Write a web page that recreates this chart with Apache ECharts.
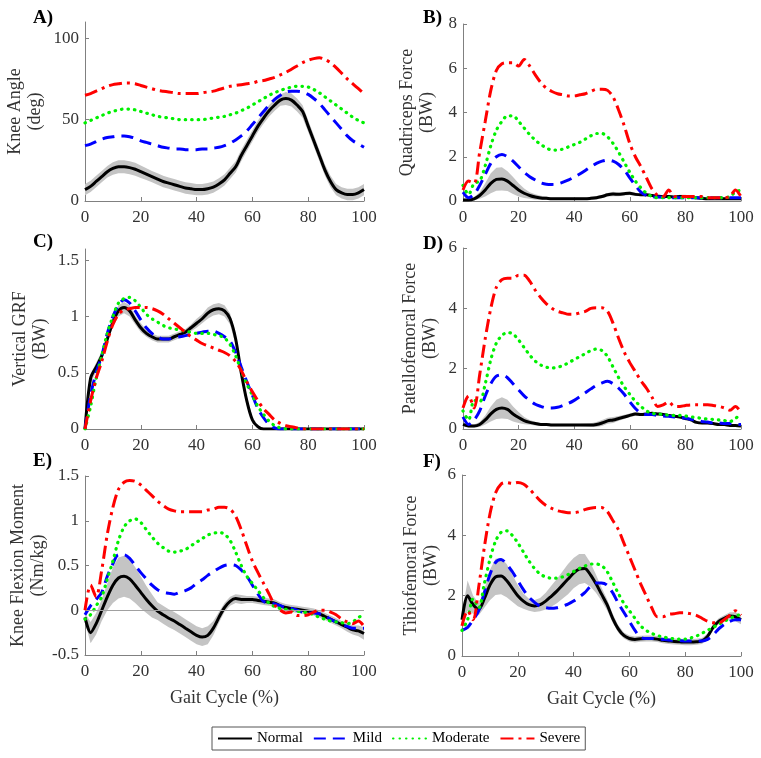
<!DOCTYPE html>
<html>
<head>
<meta charset="utf-8">
<script src="https://cdn.jsdelivr.net/npm/echarts@6/dist/echarts.min.js"></script>
<style>
html,body{margin:0;padding:0;background:#fff;}
#chart{width:761px;height:758px;}
</style>
</head>
<body>
<div id="chart"></div>
<script>
// ---------- DATA ----------
const gaitPct = [0,2,4,6,8,10,12,14,16,18,20,22,24,26,28,30,32,34,36,38,40,42,44,46,48,50,52,54,56,58,60,62,64,66,68,70,72,74,76,78,80,82,84,86,88,90,92,94,96,98,100];
const groups = ['Normal','Mild','Moderate','Severe'];

// A) Knee Angle (deg)
const kneeAngleNormal = [7,9,12,15,18,20,21,21,20.5,19.5,18,16.5,15,13.5,12,11,10,9,8,7.5,7,7,7.5,8.5,10.5,13,17,21,28,34,40,46,51,55.5,59,62,63,62,59,55,46,37,28,19,12,7,5,4,4,5,7];
const kneeAngleSd = [3.5,3.5,3.5,3.5,3.5,3.8,4,4,4,4,3.8,3.6,3.5,3.5,3.5,3.5,3.5,3.5,3.5,3.5,3.5,3.5,3.5,3.5,3.5,3.5,3.5,3.5,3.5,3.5,3.5,3.5,3.5,3.5,3.5,3.5,4,4,4,3.8,3.6,3.5,3.5,3.5,3.5,3.5,3.5,3.5,3.5,3.5,3.5];
const kneeAngleMild = [34,35,36.5,38,39,39.5,40,40,39.5,38.5,37,36,35,34,33,32.5,32,32,31.5,31.5,31.5,32,32,32.5,33,34,35.5,37.5,40,43,47,51,55,59,62.5,65,67,67.5,67.5,67,65.5,63,60,56,52,48,44,40,37,35,33];
const kneeAngleModerate = [48,49.5,51,52.5,54,55,56,56.5,56.5,56,55,54,53,52,51.5,51,50.5,50,50,50,50,50,50.5,51,51.5,52,53,54,55.5,57,59,61,63,65,66.5,68,69,70,70.5,70.5,70,68.5,66.5,64,61.5,59,56.5,54,51.5,49.5,48];
const kneeAngleSevere = [65,66,67.5,69,70.5,71.5,72,72.5,72.5,72,71,70,69,68,67.5,67,66.5,66,66,66,66,66.5,67,67.5,68.5,69.5,70.5,71,71.5,72,72.5,73.5,74,75,76,77.5,79,81,83,85,86.5,87.5,88,87,85,82,78.5,75,72,69,66];

// B) Quadriceps Force (BW)
const quadNormal = [0.05,0.05,0.1,0.25,0.5,0.8,0.98,1.0,0.9,0.7,0.5,0.35,0.25,0.18,0.14,0.12,0.1,0.1,0.1,0.1,0.1,0.1,0.1,0.12,0.15,0.2,0.28,0.32,0.3,0.33,0.35,0.3,0.28,0.28,0.25,0.22,0.2,0.2,0.18,0.2,0.2,0.18,0.15,0.12,0.1,0.1,0.1,0.1,0.1,0.1,0.1];
const quadSd = [0.05,0.05,0.08,0.15,0.3,0.45,0.52,0.52,0.45,0.38,0.3,0.22,0.15,0.12,0.1,0.08,0.06,0.06,0.06,0.06,0.06,0.06,0.06,0.07,0.08,0.08,0.08,0.1,0.08,0.08,0.08,0.07,0.06,0.06,0.06,0.06,0.06,0.06,0.06,0.08,0.08,0.06,0.05,0.05,0.05,0.05,0.05,0.05,0.05,0.05,0.05];
const quadMild = [0.4,0.15,0.3,0.7,1.2,1.7,2.0,2.1,2.0,1.8,1.55,1.3,1.1,0.95,0.82,0.76,0.75,0.77,0.85,0.95,1.08,1.22,1.38,1.55,1.7,1.8,1.85,1.8,1.65,1.4,1.05,0.7,0.4,0.25,0.2,0.18,0.17,0.16,0.15,0.15,0.15,0.15,0.15,0.15,0.15,0.15,0.15,0.15,0.15,0.15,0.15];
const quadModerate = [0.7,0.3,0.8,0.9,1.6,2.5,3.2,3.6,3.85,3.85,3.6,3.3,3.0,2.75,2.55,2.4,2.3,2.3,2.35,2.45,2.55,2.65,2.8,2.95,3.05,3.05,2.9,2.6,2.2,1.75,1.3,0.9,0.6,0.35,0.2,0.15,0.15,0.15,0.15,0.15,0.15,0.15,0.15,0.15,0.15,0.15,0.15,0.15,0.2,0.4,0.5];
const quadSevere = [0.5,0.9,0.8,2.2,3.6,5.0,5.9,6.2,6.25,6.25,6.1,6.4,6.1,5.7,5.35,5.1,4.95,4.85,4.8,4.75,4.75,4.8,4.85,4.95,5.05,5.05,5.0,4.7,4.1,3.4,2.6,2.0,1.55,1.05,0.55,0.25,0.2,0.5,0.2,0.2,0.2,0.2,0.2,0.2,0.15,0.15,0.15,0.15,0.2,0.5,0.2];

// C) Vertical GRF (BW)
const grfNormal = [0,0.45,0.55,0.65,0.8,0.95,1.05,1.08,1.05,0.97,0.9,0.85,0.82,0.8,0.8,0.8,0.82,0.84,0.86,0.9,0.94,0.98,1.03,1.06,1.07,1.05,0.98,0.8,0.5,0.25,0.08,0.02,0,0,0,0,0,0,0,0,0,0,0,0,0,0,0,0,0,0,0];
const grfSd = [0.02,0.04,0.04,0.04,0.04,0.04,0.05,0.05,0.05,0.04,0.04,0.03,0.03,0.03,0.03,0.03,0.03,0.03,0.03,0.03,0.04,0.04,0.05,0.05,0.05,0.05,0.05,0.05,0.05,0.04,0.03,0.01,0,0,0,0,0,0,0,0,0,0,0,0,0,0,0,0,0,0,0];
const grfMild = [0,0.3,0.5,0.65,0.85,1.0,1.1,1.15,1.12,1.05,0.97,0.9,0.85,0.82,0.8,0.8,0.81,0.82,0.83,0.84,0.85,0.86,0.87,0.87,0.85,0.82,0.78,0.68,0.55,0.42,0.3,0.18,0.1,0.04,0.01,0,0,0,0,0,0,0,0,0,0,0,0,0,0,0,0];
const grfModerate = [0,0.2,0.45,0.65,0.85,1.0,1.12,1.16,1.17,1.14,1.08,1.02,0.98,0.95,0.92,0.9,0.89,0.88,0.87,0.86,0.85,0.85,0.85,0.84,0.83,0.81,0.75,0.65,0.52,0.4,0.3,0.2,0.13,0.07,0.03,0.01,0,0,0,0,0,0,0,0,0,0,0,0,0,0,0];
const grfSevere = [0,0.25,0.45,0.6,0.78,0.93,1.02,1.06,1.07,1.08,1.08,1.08,1.07,1.05,1.02,0.98,0.94,0.9,0.86,0.82,0.79,0.76,0.74,0.72,0.7,0.68,0.65,0.6,0.52,0.42,0.33,0.25,0.18,0.13,0.08,0.05,0.03,0.02,0.01,0,0,0,0,0,0,0,0,0,0,0,0];

// D) Patellofemoral Force (BW)
const pfNormal = [0.15,0.1,0.1,0.15,0.3,0.5,0.65,0.7,0.65,0.5,0.38,0.28,0.22,0.18,0.15,0.15,0.13,0.13,0.13,0.13,0.13,0.13,0.13,0.13,0.15,0.2,0.27,0.3,0.35,0.4,0.45,0.5,0.48,0.5,0.52,0.5,0.48,0.45,0.42,0.4,0.35,0.3,0.22,0.2,0.2,0.18,0.15,0.15,0.12,0.12,0.1];
const pfSd = [0.05,0.05,0.05,0.08,0.15,0.25,0.32,0.35,0.32,0.25,0.18,0.12,0.08,0.06,0.05,0.05,0.04,0.04,0.04,0.04,0.04,0.04,0.05,0.06,0.08,0.1,0.1,0.1,0.08,0.07,0.06,0.06,0.05,0.05,0.05,0.05,0.05,0.05,0.05,0.05,0.05,0.05,0.04,0.04,0.04,0.04,0.04,0.04,0.04,0.04,0.04];
const pfMild = [0.4,0.15,0.3,0.6,1.1,1.5,1.75,1.8,1.7,1.5,1.3,1.1,0.95,0.82,0.75,0.7,0.7,0.72,0.78,0.85,0.95,1.07,1.2,1.33,1.45,1.53,1.58,1.5,1.35,1.15,0.9,0.68,0.52,0.48,0.48,0.45,0.43,0.42,0.4,0.38,0.36,0.32,0.28,0.25,0.23,0.2,0.2,0.18,0.18,0.15,0.15];
const pfModerate = [0.6,0.3,0.95,0.9,1.5,2.3,2.85,3.1,3.2,3.15,2.95,2.7,2.45,2.25,2.12,2.05,2.02,2.05,2.1,2.2,2.3,2.4,2.5,2.6,2.65,2.6,2.4,2.05,1.7,1.4,1.15,0.92,0.75,0.6,0.52,0.5,0.48,0.46,0.45,0.45,0.43,0.4,0.38,0.35,0.33,0.32,0.3,0.28,0.25,0.35,0.5];
const pfSevere = [0.7,1.1,0.7,1.8,3.0,4.0,4.7,4.95,5.0,5.0,5.1,5.1,4.9,4.6,4.35,4.15,4.0,3.9,3.85,3.8,3.8,3.85,3.9,4.0,4.02,4.02,3.9,3.5,3.0,2.55,2.2,1.9,1.6,1.35,1.05,0.75,0.8,0.9,0.75,0.75,0.78,0.8,0.8,0.8,0.8,0.78,0.75,0.7,0.62,0.75,0.55];

// E) Knee Flexion Moment (Nm/kg)
const momentNormal = [-0.08,-0.25,-0.15,0.0,0.15,0.28,0.36,0.38,0.35,0.28,0.2,0.12,0.05,-0.01,-0.05,-0.09,-0.12,-0.16,-0.2,-0.24,-0.28,-0.3,-0.28,-0.2,-0.08,0.03,0.1,0.13,0.12,0.12,0.12,0.11,0.1,0.09,0.08,0.05,0.03,0.02,0.01,0.0,-0.01,-0.02,-0.04,-0.07,-0.1,-0.13,-0.16,-0.19,-0.22,-0.23,-0.26];
const momentSd = [0.05,0.12,0.12,0.12,0.15,0.2,0.23,0.23,0.22,0.2,0.18,0.15,0.13,0.1,0.1,0.1,0.1,0.1,0.1,0.1,0.1,0.1,0.1,0.08,0.06,0.05,0.05,0.05,0.05,0.04,0.04,0.04,0.04,0.04,0.04,0.04,0.04,0.04,0.04,0.04,0.04,0.04,0.04,0.04,0.04,0.04,0.04,0.05,0.05,0.06,0.07];
const momentMild = [-0.05,0.05,0.12,0.2,0.38,0.52,0.62,0.62,0.58,0.5,0.42,0.35,0.28,0.23,0.2,0.19,0.18,0.2,0.22,0.25,0.3,0.34,0.39,0.43,0.47,0.5,0.51,0.5,0.45,0.38,0.28,0.18,0.1,0.08,0.07,0.05,0.03,0.02,0.0,-0.02,-0.03,-0.03,-0.04,-0.06,-0.1,-0.13,-0.16,-0.18,-0.2,-0.2,-0.2];
const momentModerate = [-0.1,-0.05,0.05,0.15,0.35,0.55,0.78,0.93,1.0,1.02,0.98,0.9,0.82,0.75,0.7,0.66,0.65,0.66,0.68,0.72,0.76,0.8,0.84,0.86,0.87,0.85,0.78,0.65,0.5,0.38,0.3,0.22,0.14,0.08,0.04,0.02,0.01,0.0,-0.01,-0.02,-0.03,-0.05,-0.08,-0.1,-0.12,-0.13,-0.14,-0.15,-0.13,-0.08,-0.05];
const momentSevere = [0.0,0.28,0.15,0.45,0.85,1.15,1.35,1.43,1.45,1.44,1.4,1.34,1.28,1.22,1.17,1.13,1.11,1.1,1.1,1.1,1.1,1.1,1.12,1.13,1.15,1.15,1.13,1.05,0.9,0.72,0.55,0.42,0.3,0.18,0.06,0.0,-0.03,-0.02,-0.06,-0.06,-0.05,-0.02,0.0,0.0,-0.02,-0.05,-0.1,-0.13,-0.15,-0.12,-0.18];

// F) Tibiofemoral Force (BW)
const tfNormal = [1.2,2.0,1.7,1.55,1.9,2.35,2.62,2.65,2.5,2.25,2.0,1.82,1.7,1.66,1.7,1.82,1.98,2.15,2.35,2.55,2.75,2.88,2.9,2.7,2.4,2.05,1.7,1.25,0.9,0.68,0.58,0.55,0.57,0.58,0.58,0.56,0.52,0.5,0.48,0.47,0.46,0.46,0.47,0.5,0.65,0.95,1.15,1.25,1.33,1.3,1.2];
const tfSd = [0.2,0.5,0.3,0.2,0.3,0.5,0.6,0.6,0.55,0.45,0.35,0.25,0.2,0.2,0.22,0.28,0.35,0.4,0.45,0.5,0.5,0.5,0.48,0.4,0.3,0.22,0.18,0.15,0.12,0.1,0.1,0.1,0.1,0.1,0.1,0.1,0.1,0.1,0.1,0.1,0.1,0.1,0.1,0.1,0.1,0.1,0.1,0.1,0.12,0.15,0.15];
const tfMild = [0.85,0.95,1.2,1.5,2.1,2.7,3.1,3.2,3.05,2.8,2.5,2.2,1.95,1.78,1.65,1.6,1.58,1.6,1.65,1.72,1.82,1.95,2.1,2.3,2.42,2.42,2.35,2.1,1.75,1.45,1.15,0.85,0.62,0.58,0.58,0.57,0.55,0.53,0.52,0.51,0.5,0.5,0.5,0.5,0.55,0.7,0.9,1.05,1.15,1.2,1.2];
const tfModerate = [0.85,1.2,1.9,1.6,2.4,3.2,3.8,4.1,4.15,4.0,3.75,3.45,3.15,2.9,2.72,2.62,2.58,2.58,2.62,2.7,2.8,2.9,2.98,3.05,3.05,3.0,2.8,2.45,2.08,1.75,1.5,1.25,1.0,0.85,0.75,0.68,0.63,0.6,0.57,0.56,0.56,0.6,0.66,0.75,0.85,0.95,1.05,1.15,1.25,1.32,1.38];
const tfSevere = [1.0,1.5,1.2,2.3,3.6,4.7,5.4,5.7,5.75,5.72,5.75,5.7,5.55,5.35,5.15,5.0,4.9,4.82,4.78,4.75,4.75,4.78,4.85,4.9,4.92,4.92,4.8,4.5,4.2,3.75,3.3,2.85,2.4,2.0,1.6,1.3,1.3,1.38,1.4,1.43,1.43,1.4,1.35,1.25,1.15,1.1,1.1,1.2,1.35,1.5,1.35];

// ---------- LAYOUT / STYLE ----------
const FONT = '"Liberation Serif", "Times New Roman", serif';
const panels = [
  {tag:'A)', tagPos:[33,9], grid:{left:85,top:22,width:279,height:179}, y:{min:0,max:110,interval:50,vals:[0,50,100]}, name:'Knee Angle\n(deg)', gap:40,
   lines:[kneeAngleNormal,kneeAngleMild,kneeAngleModerate,kneeAngleSevere], sd:kneeAngleSd, xName:''},
  {tag:'B)', tagPos:[423,9], grid:{left:463,top:24,width:278,height:177}, y:{min:0,max:8,interval:2,vals:[0,2,4,6,8]}, name:'Quadriceps Force\n(BW)', gap:26,
   lines:[quadNormal,quadMild,quadModerate,quadSevere], sd:quadSd, xName:''},
  {tag:'C)', tagPos:[33,233], grid:{left:85,top:249,width:279,height:180}, y:{min:0,max:1.6,interval:0.5,vals:[0,0.5,1,1.5]}, name:'Vertical GRF\n(BW)', gap:35,
   lines:[grfNormal,grfMild,grfModerate,grfSevere], sd:grfSd, xName:''},
  {tag:'D)', tagPos:[423,235], grid:{left:463,top:248,width:278,height:181}, y:{min:0,max:6,interval:2,vals:[0,2,4,6]}, name:'Patellofemoral Force\n(BW)', gap:23,
   lines:[pfNormal,pfMild,pfModerate,pfSevere], sd:pfSd, xName:''},
  {tag:'E)', tagPos:[33,452], grid:{left:85,top:476,width:279,height:179}, y:{min:-0.5,max:1.5,interval:0.5,vals:[-0.5,0,0.5,1,1.5]}, name:'Knee Flexion Moment\n(Nm/kg)', gap:37,
   lines:[momentNormal,momentMild,momentModerate,momentSevere], sd:momentSd, xName:'Gait Cycle (%)', zeroLine:true},
  {tag:'F)', tagPos:[423,453], grid:{left:462,top:475,width:279,height:181}, y:{min:0,max:6,interval:2,vals:[0,2,4,6]}, name:'Tibiofemoral Force\n(BW)', gap:21,
   lines:[tfNormal,tfMild,tfModerate,tfSevere], sd:tfSd, xName:'Gait Cycle (%)'}
];

const lineStyles = {
  Normal:   {color:'#000000', width:3, type:'solid'},
  Mild:     {color:'#0000ff', width:3, type:[12,7]},
  Moderate: {color:'#00f000', width:3.2, type:[0.5,6], cap:'round'},
  Severe:   {color:'#ff0000', width:3, type:[13,5,3,5]}
};

const AXIS_COLOR = '#808080';
const TEXT_COLOR = '#333333';
const BAND_COLOR = '#c4c4c4';

const grids = [], xAxes = [], yAxes = [], series = [], graphics = [];
panels.forEach((p, i) => {
  grids.push(Object.assign({containLabel:false}, p.grid));
  xAxes.push({
    type:'value', gridIndex:i, min:0, max:100, interval:20,
    axisLine:{show:true, onZero:false, lineStyle:{color:AXIS_COLOR, width:1}},
    axisTick:{show:true, inside:true, length:4, lineStyle:{color:AXIS_COLOR}},
    axisLabel:{color:TEXT_COLOR, fontFamily:FONT, fontSize:17, margin:8},
    splitLine:{show:false},
    name:p.xName, nameLocation:'middle', nameGap:34,
    nameTextStyle:{color:TEXT_COLOR, fontFamily:FONT, fontSize:18}
  });
  yAxes.push({
    type:'value', gridIndex:i, min:p.y.min, max:p.y.max, interval:p.y.interval,
    axisLine:{show:true, onZero:false, lineStyle:{color:AXIS_COLOR, width:1}},
    axisTick:{show:true, inside:true, length:4, lineStyle:{color:AXIS_COLOR}, customValues:p.y.vals},
    axisLabel:{color:TEXT_COLOR, fontFamily:FONT, fontSize:17, margin:6, customValues:p.y.vals},
    splitLine:{show:false},
    name:p.name, nameLocation:'middle', nameGap:p.gap, nameRotate:90,
    nameTextStyle:{color:TEXT_COLOR, fontFamily:FONT, fontSize:18, lineHeight:20}
  });
  const normal = p.lines[0];
  const bandData = gaitPct.map((x, k) => [x, normal[k] - p.sd[k], normal[k] + p.sd[k]]);
  const bandSeries = {
    type:'custom', name:'band'+i, xAxisIndex:i, yAxisIndex:i, data:bandData,
    encode:{x:0, y:[1,2]}, silent:true, z:1, clip:true,
    renderItem: function (params, api) {
      if (params.dataIndex !== 0) return null;
      const upper = bandData.map(d => api.coord([d[0], d[2]]));
      const lower = bandData.map(d => api.coord([d[0], d[1]])).reverse();
      return {type:'polygon', shape:{points:upper.concat(lower)}, style:{fill:BAND_COLOR, stroke:null}};
    }
  };
  if (p.zeroLine) {
    bandSeries.markLine = {silent:true, symbol:['none','none'], label:{show:false},
      lineStyle:{color:'#a0a0a0', type:'solid', width:1.2}, data:[{yAxis:0}]};
  }
  series.push(bandSeries);
  groups.forEach((g, gi) => {
    series.push({
      type:'line', name:g, xAxisIndex:i, yAxisIndex:i,
      data:gaitPct.map((x, k) => [x, p.lines[gi][k]]),
      symbol:'none', smooth:0.3, lineStyle:lineStyles[g], itemStyle:{color:lineStyles[g].color},
      z:2+gi, silent:true
    });
  });
  graphics.push({type:'text', left:p.tagPos[0], top:p.tagPos[1],
    style:{text:p.tag, font:'bold 19px ' + FONT, fill:'#000'}});
});

const chart = echarts.init(document.getElementById('chart'), null, {renderer:'canvas'});
chart.setOption({
  backgroundColor:'#ffffff',
  animation:false,
  grid:grids, xAxis:xAxes, yAxis:yAxes, series:series, graphic:graphics,
  legend:{
    data:groups, left:212, top:727, orient:'horizontal',
    itemWidth:34, itemHeight:14, itemGap:10, padding:[4,5],
    borderColor:'#555', borderWidth:1, backgroundColor:'#fff',
    itemStyle:{opacity:0},
    textStyle:{color:'#000', fontFamily:FONT, fontSize:15},
    selectedMode:false
  }
});
</script>
</body>
</html>
